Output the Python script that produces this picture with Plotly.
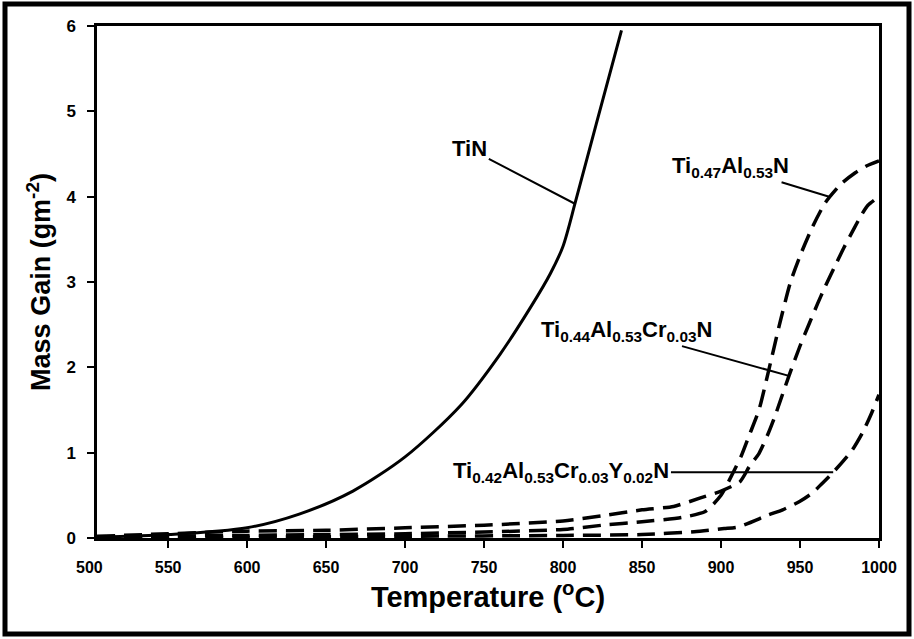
import numpy as np
import plotly.graph_objects as go

# Mass gain after oxidation (g m^-2) versus temperature (deg C)
temp_tin = [505, 550, 600, 633, 667, 700, 735, 760, 780, 792, 800, 808, 821, 837]
gain_tin = [0.01, 0.04, 0.12, 0.28, 0.55, 0.95, 1.55, 2.15, 2.72, 3.10, 3.42, 3.95, 4.85, 5.95]

temp_tialn = [505, 550, 600, 650, 700, 750, 800, 825, 850, 875, 890, 900, 908, 913, 918,
              924, 930, 937, 944, 951, 958, 966, 976, 985, 992, 1000]
gain_tialn = [0.0, 0.02, 0.03, 0.04, 0.05, 0.07, 0.10, 0.15, 0.19, 0.24, 0.31, 0.50, 0.78, 0.97, 1.21,
              1.50, 1.95, 2.50, 3.00, 3.35, 3.65, 3.93, 4.15, 4.28, 4.36, 4.42]

temp_cr = [505, 550, 600, 650, 700, 750, 800, 825, 850, 870, 887, 900, 912, 918, 924, 930, 934,
           943, 950, 956, 961, 966, 973, 978, 984, 989, 993, 1000]
gain_cr = [0.02, 0.05, 0.08, 0.09, 0.12, 0.15, 0.20, 0.26, 0.33, 0.37, 0.47, 0.55, 0.66, 0.84, 0.99, 1.23, 1.42,
           1.90, 2.25, 2.52, 2.74, 2.95, 3.22, 3.41, 3.62, 3.79, 3.90, 4.00]

temp_y = [505, 600, 700, 800, 850, 883, 902, 911, 930, 939, 950, 958, 964, 971, 983, 990, 995, 1000]
gain_y = [0.0, 0.01, 0.02, 0.03, 0.04, 0.074, 0.11, 0.13, 0.27, 0.33, 0.43, 0.53, 0.64, 0.77, 1.03, 1.25, 1.45, 1.68]

x_ticks = [550, 600, 650, 700, 750, 800, 850, 900, 950, 1000]
y_ticks = [0, 1, 2, 3, 4, 5, 6]
x_range = [505, 1000]

FONT = "Liberation Sans"
W, H = 914, 639
L, R, T, B = 97, 35, 26, 101

fig = go.Figure()

fig.add_trace(go.Scatter(x=temp_tin, y=gain_tin, mode="lines",
                         line=dict(color="black", width=3, shape="spline", smoothing=0.8)))
for tx, gy in [(temp_tialn, gain_tialn), (temp_cr, gain_cr), (temp_y, gain_y)]:
    fig.add_trace(go.Scatter(x=tx, y=gy, mode="lines",
                             line=dict(color="black", width=3.5, dash="18px,9px",
                                       shape="spline", smoothing=0.6)))

# Leader-line labels: (text, series x, series y, point on curve, label position)
labels = [
    ("TiN", temp_tin, gain_tin, 807.5, (741, 4.56)),
    ("Ti<sub>0.47</sub>Al<sub>0.53</sub>N", temp_tialn, gain_tialn, 969, (906, 4.35)),
    ("Ti<sub>0.44</sub>Al<sub>0.53</sub>Cr<sub>0.03</sub>N", temp_cr, gain_cr, 943, (840, 2.43)),
    ("Ti<sub>0.42</sub>Al<sub>0.53</sub>Cr<sub>0.03</sub>Y<sub>0.02</sub>N", temp_y, gain_y, 971, (799, None)),
]
for text, sx, sy, px, (lx, ly) in labels:
    py = float(np.interp(px, sx, sy))
    fig.add_annotation(x=px, y=py, ax=lx, ay=py if ly is None else ly,
                       axref="x", ayref="y", text="<b>" + text + "</b>",
                       showarrow=True, arrowhead=0, arrowwidth=2, arrowcolor="black",
                       standoff=0, font=dict(family=FONT, size=22, color="black"))

# the first tick label sits just left of the axis origin
x500 = (500 - x_range[0]) / (x_range[1] - x_range[0])
fig.add_annotation(x=x500, y=0, xref="paper", yref="paper", text="<b>500</b>", showarrow=False,
                   xanchor="center", yanchor="top", yshift=-19,
                   font=dict(family=FONT, size=16, color="black"))

# outer frame around the whole figure
pw, ph = W - L - R, H - T - B
fig.add_shape(type="rect", xref="paper", yref="paper",
              x0=(5 - L) / pw, x1=(909 - L) / pw,
              y0=(H - B - 634) / ph, y1=(H - B - 4) / ph,
              line=dict(color="black", width=5))

fig.update_layout(
    width=W, height=H, margin=dict(l=L, r=R, t=T, b=B),
    paper_bgcolor="white", plot_bgcolor="white", showlegend=False,
    font=dict(family=FONT, color="black"),
)
fig.update_xaxes(range=x_range, tickvals=x_ticks, ticks="outside", ticklen=7, tickwidth=2,
                 tickcolor="black", showgrid=False, zeroline=False, showline=True, linewidth=2.5,
                 linecolor="black", mirror=True, ticklabelstandoff=6,
                 tickfont=dict(family=FONT, size=16, weight="bold"),
                 title=dict(text="<b>Temperature (<sup>o</sup>C)</b>", standoff=12,
                            font=dict(family=FONT, size=29)))
fig.update_yaxes(range=[0, 6], tickvals=y_ticks, ticks="outside", ticklen=7, tickwidth=2,
                 tickcolor="black", showgrid=False, zeroline=False, showline=True, linewidth=2.5,
                 linecolor="black", mirror=True, ticklabelstandoff=8,
                 tickfont=dict(family=FONT, size=17, weight="bold"),
                 title=dict(text="<b>Mass Gain (gm<sup>-2</sup>)</b>", standoff=8,
                            font=dict(family=FONT, size=27)))

fig.write_html("out.html")
